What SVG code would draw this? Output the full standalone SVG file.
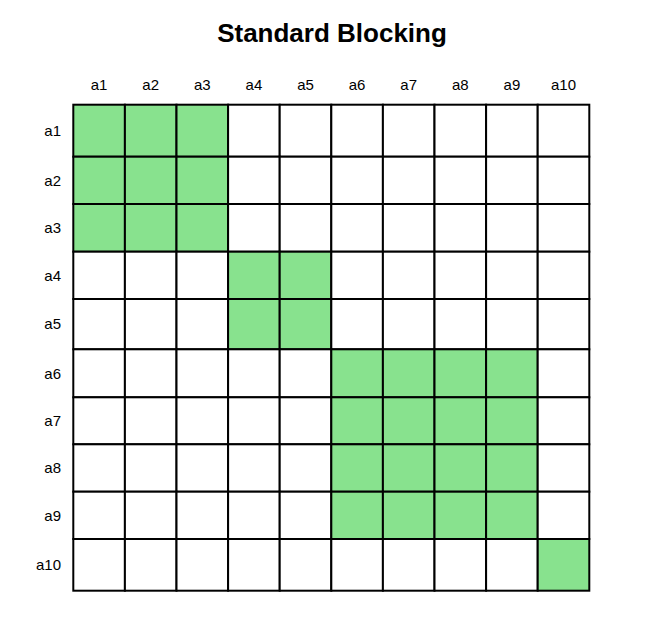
<svg xmlns="http://www.w3.org/2000/svg" width="645" height="630" viewBox="0 0 645 630">
<style>
.t{font-family:"Liberation Sans",Arial,sans-serif;font-size:15px;fill:#000}
.title{font-family:"Liberation Sans",Arial,sans-serif;font-size:26px;font-weight:bold;fill:#000}
.c{fill:#fff;stroke:#000;stroke-width:2}
.g{fill:#88e28e;stroke:#000;stroke-width:2}
</style>
<rect width="645" height="630" fill="#fff"/>
<text class="title" x="332" y="42" text-anchor="middle">Standard Blocking</text>
<g id="col-labels" class="t" text-anchor="middle">
<text x="99.1" y="90">a1</text>
<text x="150.7" y="90">a2</text>
<text x="202.3" y="90">a3</text>
<text x="253.9" y="90">a4</text>
<text x="305.5" y="90">a5</text>
<text x="357.1" y="90">a6</text>
<text x="408.7" y="90">a7</text>
<text x="460.3" y="90">a8</text>
<text x="511.9" y="90">a9</text>
<text x="563.5" y="90">a10</text>
</g>
<g id="row-labels" class="t" text-anchor="end">
<text x="61" y="136">a1</text>
<text x="61" y="185.5">a2</text>
<text x="61" y="233">a3</text>
<text x="61" y="280.5">a4</text>
<text x="61" y="329.3">a5</text>
<text x="61" y="378.5">a6</text>
<text x="61" y="426">a7</text>
<text x="61" y="473.2">a8</text>
<text x="61" y="520.5">a9</text>
<text x="61" y="570">a10</text>
</g>
<g id="row-a1">
<rect class="g" x="73.3" y="104.7" width="51.6" height="52"/><rect class="g" x="124.9" y="104.7" width="51.6" height="52"/><rect class="g" x="176.5" y="104.7" width="51.6" height="52"/><rect class="c" x="228.1" y="104.7" width="51.6" height="52"/><rect class="c" x="279.7" y="104.7" width="51.6" height="52"/><rect class="c" x="331.3" y="104.7" width="51.6" height="52"/><rect class="c" x="382.9" y="104.7" width="51.6" height="52"/><rect class="c" x="434.5" y="104.7" width="51.6" height="52"/><rect class="c" x="486.1" y="104.7" width="51.6" height="52"/><rect class="c" x="537.7" y="104.7" width="51.6" height="52"/>
</g>
<g id="row-a2">
<rect class="g" x="73.3" y="156.7" width="51.6" height="47.3"/><rect class="g" x="124.9" y="156.7" width="51.6" height="47.3"/><rect class="g" x="176.5" y="156.7" width="51.6" height="47.3"/><rect class="c" x="228.1" y="156.7" width="51.6" height="47.3"/><rect class="c" x="279.7" y="156.7" width="51.6" height="47.3"/><rect class="c" x="331.3" y="156.7" width="51.6" height="47.3"/><rect class="c" x="382.9" y="156.7" width="51.6" height="47.3"/><rect class="c" x="434.5" y="156.7" width="51.6" height="47.3"/><rect class="c" x="486.1" y="156.7" width="51.6" height="47.3"/><rect class="c" x="537.7" y="156.7" width="51.6" height="47.3"/>
</g>
<g id="row-a3">
<rect class="g" x="73.3" y="204" width="51.6" height="47.7"/><rect class="g" x="124.9" y="204" width="51.6" height="47.7"/><rect class="g" x="176.5" y="204" width="51.6" height="47.7"/><rect class="c" x="228.1" y="204" width="51.6" height="47.7"/><rect class="c" x="279.7" y="204" width="51.6" height="47.7"/><rect class="c" x="331.3" y="204" width="51.6" height="47.7"/><rect class="c" x="382.9" y="204" width="51.6" height="47.7"/><rect class="c" x="434.5" y="204" width="51.6" height="47.7"/><rect class="c" x="486.1" y="204" width="51.6" height="47.7"/><rect class="c" x="537.7" y="204" width="51.6" height="47.7"/>
</g>
<g id="row-a4">
<rect class="c" x="73.3" y="251.7" width="51.6" height="47.3"/><rect class="c" x="124.9" y="251.7" width="51.6" height="47.3"/><rect class="c" x="176.5" y="251.7" width="51.6" height="47.3"/><rect class="g" x="228.1" y="251.7" width="51.6" height="47.3"/><rect class="g" x="279.7" y="251.7" width="51.6" height="47.3"/><rect class="c" x="331.3" y="251.7" width="51.6" height="47.3"/><rect class="c" x="382.9" y="251.7" width="51.6" height="47.3"/><rect class="c" x="434.5" y="251.7" width="51.6" height="47.3"/><rect class="c" x="486.1" y="251.7" width="51.6" height="47.3"/><rect class="c" x="537.7" y="251.7" width="51.6" height="47.3"/>
</g>
<g id="row-a5">
<rect class="c" x="73.3" y="299" width="51.6" height="50.3"/><rect class="c" x="124.9" y="299" width="51.6" height="50.3"/><rect class="c" x="176.5" y="299" width="51.6" height="50.3"/><rect class="g" x="228.1" y="299" width="51.6" height="50.3"/><rect class="g" x="279.7" y="299" width="51.6" height="50.3"/><rect class="c" x="331.3" y="299" width="51.6" height="50.3"/><rect class="c" x="382.9" y="299" width="51.6" height="50.3"/><rect class="c" x="434.5" y="299" width="51.6" height="50.3"/><rect class="c" x="486.1" y="299" width="51.6" height="50.3"/><rect class="c" x="537.7" y="299" width="51.6" height="50.3"/>
</g>
<g id="row-a6">
<rect class="c" x="73.3" y="349.3" width="51.6" height="48"/><rect class="c" x="124.9" y="349.3" width="51.6" height="48"/><rect class="c" x="176.5" y="349.3" width="51.6" height="48"/><rect class="c" x="228.1" y="349.3" width="51.6" height="48"/><rect class="c" x="279.7" y="349.3" width="51.6" height="48"/><rect class="g" x="331.3" y="349.3" width="51.6" height="48"/><rect class="g" x="382.9" y="349.3" width="51.6" height="48"/><rect class="g" x="434.5" y="349.3" width="51.6" height="48"/><rect class="g" x="486.1" y="349.3" width="51.6" height="48"/><rect class="c" x="537.7" y="349.3" width="51.6" height="48"/>
</g>
<g id="row-a7">
<rect class="c" x="73.3" y="397.3" width="51.6" height="47"/><rect class="c" x="124.9" y="397.3" width="51.6" height="47"/><rect class="c" x="176.5" y="397.3" width="51.6" height="47"/><rect class="c" x="228.1" y="397.3" width="51.6" height="47"/><rect class="c" x="279.7" y="397.3" width="51.6" height="47"/><rect class="g" x="331.3" y="397.3" width="51.6" height="47"/><rect class="g" x="382.9" y="397.3" width="51.6" height="47"/><rect class="g" x="434.5" y="397.3" width="51.6" height="47"/><rect class="g" x="486.1" y="397.3" width="51.6" height="47"/><rect class="c" x="537.7" y="397.3" width="51.6" height="47"/>
</g>
<g id="row-a8">
<rect class="c" x="73.3" y="444.3" width="51.6" height="47.4"/><rect class="c" x="124.9" y="444.3" width="51.6" height="47.4"/><rect class="c" x="176.5" y="444.3" width="51.6" height="47.4"/><rect class="c" x="228.1" y="444.3" width="51.6" height="47.4"/><rect class="c" x="279.7" y="444.3" width="51.6" height="47.4"/><rect class="g" x="331.3" y="444.3" width="51.6" height="47.4"/><rect class="g" x="382.9" y="444.3" width="51.6" height="47.4"/><rect class="g" x="434.5" y="444.3" width="51.6" height="47.4"/><rect class="g" x="486.1" y="444.3" width="51.6" height="47.4"/><rect class="c" x="537.7" y="444.3" width="51.6" height="47.4"/>
</g>
<g id="row-a9">
<rect class="c" x="73.3" y="491.7" width="51.6" height="47.3"/><rect class="c" x="124.9" y="491.7" width="51.6" height="47.3"/><rect class="c" x="176.5" y="491.7" width="51.6" height="47.3"/><rect class="c" x="228.1" y="491.7" width="51.6" height="47.3"/><rect class="c" x="279.7" y="491.7" width="51.6" height="47.3"/><rect class="g" x="331.3" y="491.7" width="51.6" height="47.3"/><rect class="g" x="382.9" y="491.7" width="51.6" height="47.3"/><rect class="g" x="434.5" y="491.7" width="51.6" height="47.3"/><rect class="g" x="486.1" y="491.7" width="51.6" height="47.3"/><rect class="c" x="537.7" y="491.7" width="51.6" height="47.3"/>
</g>
<g id="row-a10">
<rect class="c" x="73.3" y="539" width="51.6" height="51.7"/><rect class="c" x="124.9" y="539" width="51.6" height="51.7"/><rect class="c" x="176.5" y="539" width="51.6" height="51.7"/><rect class="c" x="228.1" y="539" width="51.6" height="51.7"/><rect class="c" x="279.7" y="539" width="51.6" height="51.7"/><rect class="c" x="331.3" y="539" width="51.6" height="51.7"/><rect class="c" x="382.9" y="539" width="51.6" height="51.7"/><rect class="c" x="434.5" y="539" width="51.6" height="51.7"/><rect class="c" x="486.1" y="539" width="51.6" height="51.7"/><rect class="g" x="537.7" y="539" width="51.6" height="51.7"/>
</g>
</svg>
